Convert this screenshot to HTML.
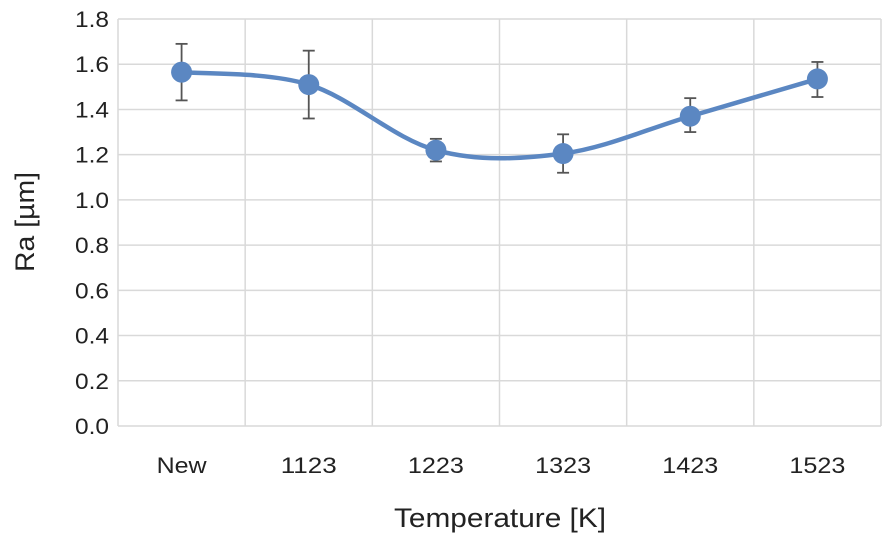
<!DOCTYPE html>
<html><head><meta charset="utf-8"><style>
body{margin:0;background:#fff}
svg text{font-family:"Liberation Sans",sans-serif;fill:#222}
</style></head><body>
<svg id="chart" width="884" height="540"></svg>
<script>
const categories=["New","1123","1223","1323","1423","1523"];
const values=[1.565,1.51,1.22,1.205,1.37,1.535];
const errHigh=[1.69,1.66,1.27,1.29,1.45,1.61];
const errLow=[1.44,1.36,1.17,1.12,1.30,1.455];
const yTicks=[0,0.2,0.4,0.6,0.8,1.0,1.2,1.4,1.6,1.8];
const NS="http://www.w3.org/2000/svg";
const svg=document.getElementById('chart');
const L=118,R=881,T=19,B=426,yMax=1.8;
const bw=(R-L)/categories.length;
const x=i=>L+bw*(i+0.5);
const y=v=>B-(v/yMax)*(B-T);
function mk(t,a,p){const e=document.createElementNS(NS,t);for(const k in a)e.setAttribute(k,a[k]);(p||svg).appendChild(e);return e;}
const grid=mk('g',{});


yTicks.forEach(v=>{
  mk('line',{x1:L,x2:R,y1:y(v),y2:y(v),stroke:'#d9d9d9','stroke-width':1.5},grid);
  const t=mk('text',{x:109,y:y(v)+8,'text-anchor':'end','font-size':22,textLength:34,lengthAdjust:'spacingAndGlyphs'});
  t.textContent=v.toFixed(1);
  
  
});
for(let i=0;i<=categories.length;i++){
  mk('line',{x1:L+bw*i,x2:L+bw*i,y1:T,y2:B,stroke:'#d9d9d9','stroke-width':1.5},grid);
}
categories.forEach((c,i)=>{
  const t=mk('text',{x:x(i),y:473,'text-anchor':'middle','font-size':22,textLength:(c==='New'?50:56),lengthAdjust:'spacingAndGlyphs'});
  t.textContent=c;
  
  
});
const pts=values.map((v,i)=>[x(i),y(v)]);
let d=`M${pts[0][0]},${pts[0][1]}`;
for(let i=0;i<pts.length-1;i++){
  const p0=pts[Math.max(0,i-1)],p1=pts[i],p2=pts[i+1],p3=pts[Math.min(pts.length-1,i+2)];
  const c1=[p1[0]+(p2[0]-p0[0])/6,p1[1]+(p2[1]-p0[1])/6];
  const c2=[p2[0]-(p3[0]-p1[0])/6,p2[1]-(p3[1]-p1[1])/6];
  d+=` C${c1[0]},${c1[1]} ${c2[0]},${c2[1]} ${p2[0]},${p2[1]}`;
}
const line=mk('path',{d:d,fill:'none',stroke:'#5b87c2','stroke-width':4.5});


values.forEach((v,i)=>{
  const g=mk('g',{});
  
  
  mk('line',{x1:x(i),x2:x(i),y1:y(errHigh[i]),y2:y(errLow[i]),stroke:'#555','stroke-width':1.8},g);
  mk('line',{x1:x(i)-6,x2:x(i)+6,y1:y(errHigh[i]),y2:y(errHigh[i]),stroke:'#555','stroke-width':1.8},g);
  mk('line',{x1:x(i)-6,x2:x(i)+6,y1:y(errLow[i]),y2:y(errLow[i]),stroke:'#555','stroke-width':1.8},g);
  const c=mk('circle',{cx:x(i),cy:y(v),r:10.5,fill:'#5b87c2'});
  
  
});
const xt=mk('text',{x:500,y:527,'text-anchor':'middle','font-size':27,textLength:212,lengthAdjust:'spacingAndGlyphs'});
xt.textContent='Temperature [K]';


const yt=mk('text',{x:0,y:0,'text-anchor':'middle','font-size':27,textLength:100,lengthAdjust:'spacingAndGlyphs',transform:'translate(34,222) rotate(-90)'});
yt.textContent='Ra [µm]';


</script>
</body></html>
